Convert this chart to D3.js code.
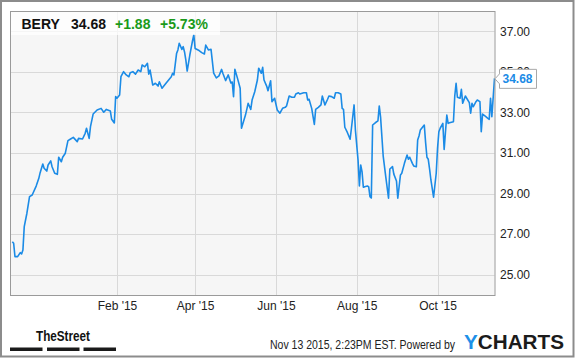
<!DOCTYPE html>
<html>
<head>
<meta charset="utf-8">
<script src="https://cdn.jsdelivr.net/npm/d3@7.9.0/dist/d3.min.js"></script>
<style>
  html, body { margin: 0; padding: 0; background: #fff; }
  svg { display: block; font-family: "Liberation Sans", Arial, sans-serif; }
</style>
</head>
<body>
<svg id="chart" width="575" height="358"></svg>
<script>
// quote header
const ticker = 'BERY';
const lastPrice = 34.68;
const change = '+1.88';
const changePct = '+5.73%';
const stamp = 'Nov 13 2015, 2:23PM EST.';

// closes, one month per line
const dates = [
  '2014-11-14','2014-11-15','2014-11-16','2014-11-18','2014-11-20','2014-11-21','2014-11-22','2014-11-23','2014-11-25','2014-11-27','2014-11-29',
  '2014-12-02','2014-12-04','2014-12-05','2014-12-07','2014-12-08','2014-12-10','2014-12-11','2014-12-13','2014-12-14','2014-12-16','2014-12-18','2014-12-19','2014-12-21','2014-12-22','2014-12-24','2014-12-26','2014-12-28','2014-12-30',
  '2015-01-02','2015-01-03','2015-01-06','2015-01-08','2015-01-09','2015-01-11','2015-01-12','2015-01-14','2015-01-17','2015-01-20','2015-01-22','2015-01-24','2015-01-27','2015-01-28','2015-01-30','2015-01-31',
  '2015-02-01','2015-02-03','2015-02-04','2015-02-06','2015-02-08','2015-02-10','2015-02-11','2015-02-13','2015-02-15','2015-02-17','2015-02-19','2015-02-20','2015-02-22','2015-02-24','2015-02-25','2015-02-26','2015-02-28',
  '2015-03-02','2015-03-04','2015-03-05','2015-03-07','2015-03-10','2015-03-12','2015-03-14','2015-03-15','2015-03-16','2015-03-18','2015-03-19','2015-03-20','2015-03-22','2015-03-23','2015-03-24','2015-03-25','2015-03-26','2015-03-28','2015-03-30','2015-03-31',
  '2015-04-01','2015-04-04','2015-04-06','2015-04-08','2015-04-09','2015-04-11','2015-04-13','2015-04-15','2015-04-17','2015-04-19','2015-04-21','2015-04-22','2015-04-24','2015-04-26','2015-04-28','2015-04-29','2015-04-30',
  '2015-05-01','2015-05-03','2015-05-05','2015-05-06','2015-05-09','2015-05-10','2015-05-11','2015-05-13','2015-05-14','2015-05-16','2015-05-18','2015-05-19','2015-05-21','2015-05-22','2015-05-23','2015-05-25','2015-05-26','2015-05-28','2015-05-29','2015-05-31',
  '2015-06-02','2015-06-04','2015-06-06','2015-06-08','2015-06-09','2015-06-11','2015-06-13','2015-06-15','2015-06-16','2015-06-18','2015-06-19','2015-06-22','2015-06-24','2015-06-25','2015-06-26','2015-06-28','2015-06-30',
  '2015-07-01','2015-07-03','2015-07-05','2015-07-06','2015-07-08','2015-07-10','2015-07-11','2015-07-13','2015-07-15','2015-07-16','2015-07-18','2015-07-20','2015-07-21','2015-07-22','2015-07-23','2015-07-25','2015-07-27','2015-07-28','2015-07-30','2015-07-31',
  '2015-08-02','2015-08-03','2015-08-04','2015-08-05','2015-08-06','2015-08-07','2015-08-09','2015-08-10','2015-08-11','2015-08-12','2015-08-13','2015-08-15','2015-08-17','2015-08-18','2015-08-19','2015-08-21','2015-08-23','2015-08-25','2015-08-26','2015-08-28','2015-08-29','2015-08-31',
  '2015-09-01','2015-09-03','2015-09-04','2015-09-06','2015-09-08','2015-09-09','2015-09-10','2015-09-12','2015-09-13','2015-09-15','2015-09-16','2015-09-17','2015-09-18','2015-09-21','2015-09-22','2015-09-23','2015-09-24','2015-09-25','2015-09-26','2015-09-28','2015-09-30',
  '2015-10-01','2015-10-02','2015-10-03','2015-10-05','2015-10-06','2015-10-07','2015-10-08','2015-10-09','2015-10-10','2015-10-13','2015-10-14','2015-10-15','2015-10-16','2015-10-18','2015-10-19','2015-10-20','2015-10-22','2015-10-23','2015-10-25','2015-10-26','2015-10-27','2015-10-28','2015-10-30','2015-10-31',
  '2015-11-02','2015-11-03','2015-11-04','2015-11-06','2015-11-08','2015-11-09','2015-11-10','2015-11-11','2015-11-13'
];

const closes = [
  26.63, 26.55, 25.89, 25.89, 26.09, 26.02, 26.22, 27.37, 28.03, 28.85, 28.93,
  29.37, 29.75, 30.03, 30.46, 30.25, 30.11, 30.41, 30.61, 30.32, 30.00, 29.95, 30.79, 30.57, 30.79, 30.99, 31.61, 31.69, 31.77,
  31.56, 31.72, 31.69, 31.97, 32.22, 31.72, 32.30, 32.92, 33.12, 33.20, 33.01, 33.15, 33.07, 32.66, 32.48, 33.78,
  33.70, 33.86, 34.76, 35.01, 34.85, 34.76, 34.96, 35.01, 34.89, 35.09, 35.01, 35.34, 35.25, 35.42, 34.89, 35.09, 34.35,
  34.44, 34.30, 34.51, 34.19, 34.44, 34.60, 34.76, 34.93, 34.85, 35.91, 36.08, 36.41, 36.11, 36.24, 35.98, 35.58, 35.04, 35.83, 36.52, 36.82,
  36.15, 36.05, 35.95, 35.88, 36.32, 36.08, 36.11, 34.94, 34.70, 34.80, 35.12, 34.92, 34.57, 34.85, 34.45, 34.50, 33.78,
  35.13, 34.68, 34.19, 32.22, 32.87, 33.15, 33.45, 33.15, 33.61, 34.02, 34.60, 35.18, 34.93, 35.22, 34.60, 34.30, 34.07, 34.56, 33.53, 33.70,
  33.12, 32.96, 33.20, 33.25, 33.32, 33.81, 33.75, 33.75, 33.91, 33.97, 33.91, 33.97, 33.97, 33.61, 33.65, 33.20, 32.41,
  33.15, 33.25, 33.37, 33.81, 33.37, 33.65, 33.81, 33.78, 33.70, 33.97, 33.97, 33.91, 33.20, 33.15, 32.27, 32.00, 31.68, 32.22, 33.37, 32.13,
  30.65, 29.37, 30.41, 30.08, 29.31, 29.34, 29.37, 29.34, 28.85, 28.78, 32.38, 32.49, 32.58, 33.32, 32.77, 30.83, 29.79, 28.77, 30.21, 30.33, 29.96, 29.62,
  28.77, 29.92, 30.00, 30.49, 30.90, 30.69, 30.79, 30.49, 30.36, 30.32, 31.64, 31.84, 32.13, 32.38, 31.51, 30.79, 30.69, 30.20, 29.67, 28.82, 30.00,
  31.23, 32.05, 32.22, 32.46, 31.18, 32.05, 32.87, 32.46, 32.49, 32.54, 33.81, 34.44, 33.75, 33.70, 34.14, 33.45, 33.81, 33.70, 33.48, 32.96, 33.45, 33.28, 33.53, 33.61,
  33.53, 32.05, 32.92, 32.82, 32.71, 32.66, 33.70, 32.79, 34.68
];

const range = ['2014-11-13', '2015-11-13'];
const yTicks = [25, 27, 29, 31, 33, 35, 37];
const xTicks = ['2015-02-01', '2015-04-01', '2015-06-01', '2015-08-01', '2015-10-01'];

const blue = '#1b8be6';
const green = '#1a9a1a';

const parse = d3.timeParse('%Y-%m-%d');
const data = dates.map((d, i) => ({ date: parse(d), close: closes[i] }));

const svg = d3.select('#chart');

// plot box
const plotL = 10, plotR = 494.5, plotT = 11, plotB = 295;

const x = d3.scaleTime().domain(range.map(parse)).range([plotL + 1, plotR]);
const y = d3.scaleLinear().domain([24, 38]).range([plotB, plotT]);

// outer frame
svg.append('rect')
  .attr('x', 1).attr('y', 1)
  .attr('width', 572.5).attr('height', 355.5)
  .attr('fill', '#fff')
  .attr('stroke', '#8c8c8c')
  .attr('stroke-width', 2);

svg.append('rect')
  .attr('x', plotL).attr('y', plotT)
  .attr('width', plotR - plotL).attr('height', plotB - plotT)
  .attr('fill', '#f6f6f6');

// grid
svg.append('g')
  .selectAll('line')
  .data(yTicks)
  .join('line')
  .attr('x1', plotL).attr('x2', plotR)
  .attr('y1', d => Math.round(y(d)) + 0.5)
  .attr('y2', d => Math.round(y(d)) + 0.5)
  .attr('stroke', '#d9d9d9');

svg.append('g')
  .selectAll('line')
  .data(xTicks.map(parse))
  .join('line')
  .attr('x1', d => Math.round(x(d)) + 0.5)
  .attr('x2', d => Math.round(x(d)) + 0.5)
  .attr('y1', plotT).attr('y2', plotB)
  .attr('stroke', '#d9d9d9');

// price line
const line = d3.line()
  .x(d => x(d.date))
  .y(d => y(d.close));

svg.append('path')
  .datum(data)
  .attr('d', line)
  .attr('fill', 'none')
  .attr('stroke', blue)
  .attr('stroke-width', 1.6)
  .attr('stroke-linejoin', 'round');

svg.append('rect')
  .attr('x', plotL + 0.5).attr('y', plotT + 0.5)
  .attr('width', plotR - plotL).attr('height', plotB - plotT)
  .attr('fill', 'none')
  .attr('stroke', '#9a9a9a');

// axes
const yAxis = svg.append('g')
  .attr('transform', `translate(${plotR + 5.5},0)`)
  .call(d3.axisRight(y).tickValues(yTicks).tickFormat(d3.format('.2f')).tickSize(0).tickPadding(0));

const xAxis = svg.append('g')
  .attr('transform', `translate(0,${plotB + 6})`)
  .call(d3.axisBottom(x).tickValues(xTicks.map(parse)).tickFormat(d3.timeFormat("%b '%y")).tickSize(0).tickPadding(0));

[yAxis, xAxis].forEach(g => {
  g.select('.domain').remove();
  g.selectAll('text')
    .attr('font-family', '"Liberation Sans", Arial, sans-serif')
    .attr('font-size', 12)
    .attr('fill', '#222');
});

// header box
svg.append('rect')
  .attr('x', plotL + 1).attr('y', plotT + 1)
  .attr('width', 209).attr('height', 23)
  .attr('fill', '#fff')
  .attr('fill-opacity', 0.72);

const head = svg.append('text')
  .attr('y', 28.5)
  .attr('font-size', 14)
  .attr('font-weight', 'bold');

head.append('tspan').attr('x', 21.5).attr('fill', '#111').text(ticker);
head.append('tspan').attr('x', 71).attr('fill', '#111').text(lastPrice.toFixed(2));
head.append('tspan').attr('x', 115).attr('fill', green).text(change);
head.append('tspan').attr('x', 160).attr('fill', green).text(changePct);

// last price tag, drawn over the 35.00 label as in the original
const ty = y(lastPrice);
svg.append('path')
  .attr('d', `M${plotR + 0.5},${ty + 0.5} L${plotR + 5},${ty - 4.5} L${plotR + 5},${ty - 9} L${plotR + 42},${ty - 9} L${plotR + 42},${ty + 10} L${plotR + 5},${ty + 10} L${plotR + 5},${ty + 5.5} Z`)
  .attr('fill', '#fff')
  .attr('stroke', '#a8a8a8');

svg.append('text')
  .attr('x', plotR + 8)
  .attr('y', ty + 5)
  .attr('font-size', 12)
  .attr('font-weight', 'bold')
  .attr('fill', blue)
  .text(lastPrice.toFixed(2));

// footer: TheStreet
svg.append('text')
  .attr('x', 36).attr('y', 341)
  .attr('font-family', '"Liberation Sans Narrow", "Liberation Sans", Arial, sans-serif')
  .attr('font-size', 15)
  .attr('font-weight', 'bold')
  .attr('fill', '#111')
  .attr('textLength', 54)
  .attr('lengthAdjust', 'spacingAndGlyphs')
  .text('TheStreet');

svg.append('g')
  .selectAll('rect')
  .data([10, 47, 83.5])
  .join('rect')
  .attr('x', d => d).attr('y', 347.5)
  .attr('width', 32.5).attr('height', 3.5)
  .attr('fill', '#1a1a1a');

// footer: stamp + YCharts
svg.append('text')
  .attr('x', 270).attr('y', 349)
  .attr('font-size', 12)
  .attr('fill', '#222')
  .attr('textLength', 185)
  .attr('lengthAdjust', 'spacingAndGlyphs')
  .text(stamp + '  Powered by');

const yc = svg.append('text')
  .attr('x', 464).attr('y', 349)
  .attr('font-size', 20)
  .attr('font-weight', 'bold')
  .attr('textLength', 100)
  .attr('lengthAdjust', 'spacingAndGlyphs');
yc.append('tspan').attr('fill', '#1e90e8').text('Y');
yc.append('tspan').attr('fill', '#1b1b1b').text('CHARTS');
</script>
</body>
</html>
